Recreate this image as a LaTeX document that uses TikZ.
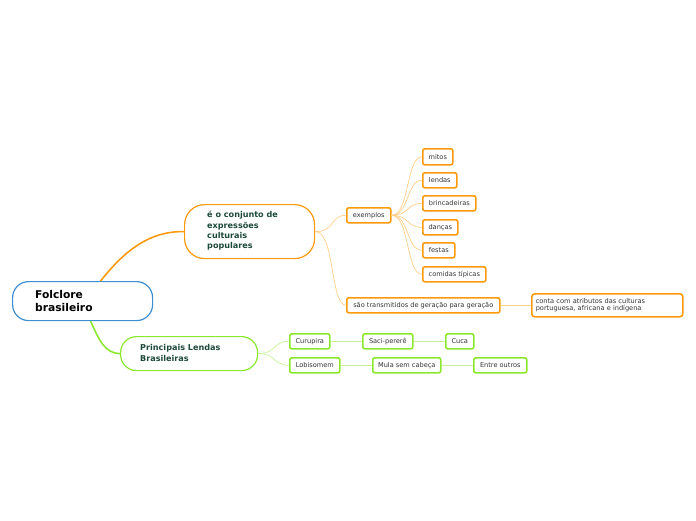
\documentclass[tikz,border=0pt]{standalone}
\usepackage{fontspec}
\setmainfont{DejaVu Sans}
\usetikzlibrary{calc}
\definecolor{org}{HTML}{FB9A0E}
\definecolor{orgl}{HTML}{FFCF8A}
\definecolor{grn}{HTML}{8CE82E}
\definecolor{grnl}{HTML}{C6F39A}
\definecolor{blu}{HTML}{3D8FD2}
\definecolor{dgrn}{HTML}{1E4A3A}
\definecolor{txt}{HTML}{333333}
\tikzset{
  leaf/.style={draw=#1, line width=1.6pt, rounded corners=2pt, fill=white, inner sep=0pt,
     minimum height=15pt, font=\fontsize{6.6}{8}\selectfont, text=txt, anchor=north west},
  big/.style={draw=#1, line width=1.2pt, rounded corners=16pt, fill=white, anchor=north west, inner sep=0pt},
  thin/.style={draw=#1, line width=0.7pt},
}
\begin{document}
\begin{tikzpicture}[x=1pt,y=-1pt]
\useasboundingbox (0,0) rectangle (696,520);
% big nodes
\node[big=blu, minimum width=140pt, minimum height=39pt] (root) at (12,281) {};
\node[anchor=west, align=left, font=\fontsize{10.7}{13}\selectfont\bfseries, inner sep=0pt] (roott) at (35,301) {Folclore\\brasileiro};
\node[big=org, minimum width=130pt, minimum height=54pt, rounded corners=20pt] (conj) at (184,204) {};
\node[anchor=west, align=left, font=\fontsize{8.1}{10.3}\selectfont\bfseries, text=dgrn, inner sep=0pt] (conjt) at (207,231) {é o conjunto de\\expressões\\culturais\\populares};
\node[big=grn, minimum width=137pt, minimum height=34pt] (lend) at (120,336) {};
\node[anchor=west, align=left, font=\fontsize{8.1}{10.8}\selectfont\bfseries, text=dgrn, inner sep=0pt] (lendt) at (140,353) {Principais Lendas\\Brasileiras};
% orange leaves
\node[leaf=org, minimum width=44pt] (ex) at (346,207) {exemplos};
\node[leaf=org, minimum width=30pt, minimum height=16pt] (mit) at (422,148) {mitos};
\node[leaf=org, minimum width=34pt] (len) at (422,172) {lendas};
\node[leaf=org, minimum width=53pt] (bri) at (422,195) {brincadeiras};
\node[leaf=org, minimum width=35pt] (dan) at (422,219) {danças};
\node[leaf=org, minimum width=32pt] (fes) at (422,242) {festas};
\node[leaf=org, minimum width=63pt] (com) at (422,266) {comidas típicas};
\node[leaf=org, minimum width=153pt] (sao) at (346,297) {são transmitidos de geração para geração};
\node[leaf=org, minimum width=151pt, minimum height=23pt, rounded corners=3pt, align=left, text width=143pt, inner xsep=4pt, font=\fontsize{6.6}{7.6}\selectfont] (cont) at (531,293) {conta com atributos das culturas\\portuguesa, africana e indígena};
% green leaves
\node[leaf=grn, minimum width=40pt] (cur) at (289,333) {Curupira};
\node[leaf=grn, minimum width=50pt] (sac) at (362,333) {Saci-pererê};
\node[leaf=grn, minimum width=28pt] (cuc) at (445,333) {Cuca};
\node[leaf=grn, minimum width=50pt] (lob) at (289,357) {Lobisomem};
\node[leaf=grn, minimum width=68pt] (mul) at (372,357) {Mula sem cabeça};
\node[leaf=grn, minimum width=53pt] (ent) at (473,357) {Entre outros};
% main connectors
\draw[org, line width=1.6pt] ($(root.north)+(18,0)$) .. controls (125,250) and (150,231) .. (conj.west);
\draw[grn, line width=1.6pt] ($(root.south)+(8,0)$) .. controls (100,342) and (105,353) .. (lend.west);
% thin connectors
\draw[thin=orgl] (conj.east) .. controls +(20,0) and +(-16,0) .. (ex.west);
\draw[thin=orgl] (conj.east) .. controls +(20,0) and +(-16,0) .. (sao.west);
\foreach \n in {mit,len,bri,dan,fes,com}{
  \draw[thin=orgl] (ex.east) .. controls +(18,0) and +(-16,0) .. (\n.west);
}
\draw[thin=orgl] (sao.east) -- (cont.west);
\draw[thin=grnl] (lend.east) .. controls +(18,0) and +(-16,0) .. (cur.west);
\draw[thin=grnl] (lend.east) .. controls +(18,0) and +(-16,0) .. (lob.west);
\draw[thin=grnl] (cur.east) -- (sac.west);
\draw[thin=grnl] (sac.east) -- (cuc.west);
\draw[thin=grnl] (lob.east) -- (mul.west);
\draw[thin=grnl] (mul.east) -- (ent.west);
\end{tikzpicture}
\end{document}
